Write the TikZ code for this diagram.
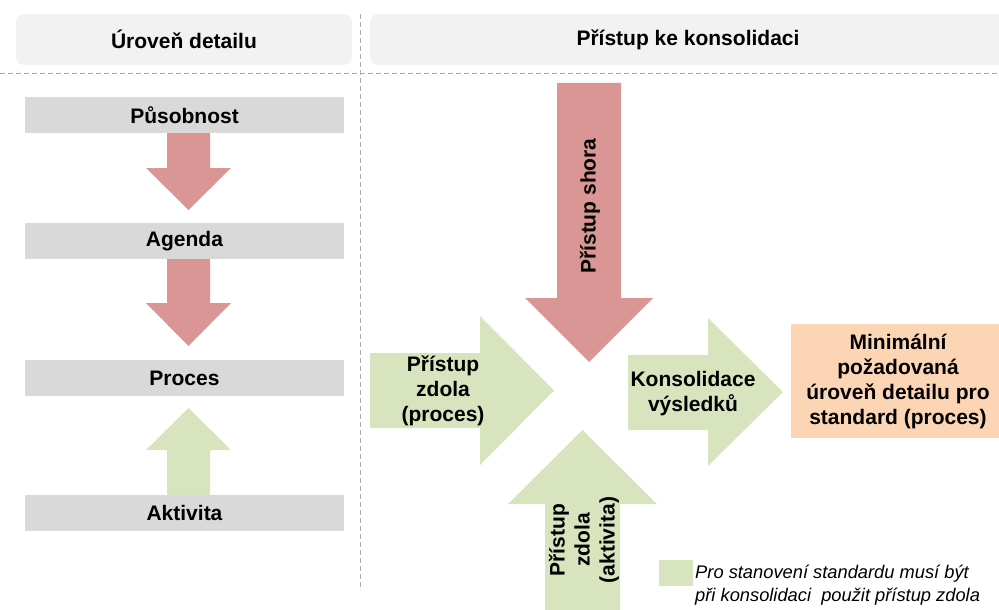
\documentclass[tikz,border=0pt]{standalone}
\usepackage{fontspec}
\setmainfont{Liberation Sans}
\definecolor{hdr}{HTML}{F2F2F2}
\definecolor{lvl}{HTML}{D9D9D9}
\definecolor{topdown}{HTML}{D99694}
\definecolor{bottomup}{HTML}{D7E4BD}
\definecolor{result}{HTML}{FCD5B5}
\definecolor{guidegray}{HTML}{ABABAB}
\begin{document}
\begin{tikzpicture}[x=1pt,y=-1pt,
  lbl/.style={font=\bfseries\fontsize{21}{25}\selectfont, align=center, inner sep=0pt},
  hdrbox/.style={lbl, fill=hdr, rounded corners=8pt, minimum height=51pt},
  lvlbox/.style={lbl, fill=lvl, minimum width=319pt, minimum height=36pt},
  guide/.style={draw=guidegray, line width=1pt, dash pattern=on 5pt off 3pt},
  redarrow/.style={fill=topdown},
  greenarrow/.style={fill=bottomup},
  note/.style={font=\itshape\fontsize{18.3}{23}\selectfont, align=left, inner sep=0pt}]
\useasboundingbox (0,0) rectangle (999,610);
\clip (0,0) rectangle (999,610);

% column headers
\node[hdrbox, minimum width=336pt] (hlevel) at (184,39.5) {Úroveň detailu};
\node[hdrbox, minimum width=636pt] (happroach) at (688,39.5) {Přístup ke konsolidaci};

% separators
\draw[guide] (0,74) -- (999,74);
\draw[guide] (360.5,14) -- (360.5,590);

% levels of detail
\node[lvlbox] (pusobnost) at (184.5,115) {Působnost};
\node[lvlbox] (agenda)    at (184.5,241) {Agenda};
\node[lvlbox] (proces)    at (184.5,378) {Proces};
\node[lvlbox] (aktivita)  at (184.5,513) {Aktivita};

% arrows between levels
\fill[redarrow] (167,133) -- (210,133) -- (210,168) -- (231,168) -- (188.5,210)
  -- (146,168) -- (167,168) -- cycle;
\fill[redarrow] (167,259) -- (210,259) -- (210,303) -- (231,303) -- (188.5,346)
  -- (146,303) -- (167,303) -- cycle;
\fill[greenarrow] (167,495) -- (210,495) -- (210,450) -- (231,450) -- (188.5,408)
  -- (146,450) -- (167,450) -- cycle;

% top-down approach
\fill[redarrow] (557,83) -- (621,83) -- (621,298) -- (653,298) -- (589,362)
  -- (525,298) -- (557,298) -- cycle;
\node[lbl, rotate=90] (shora) at (590,206) {Přístup shora};

% bottom-up approach from processes
\fill[greenarrow] (370,353) -- (480,353) -- (480,316) -- (554,390.5) -- (480,465)
  -- (480,428) -- (370,428) -- cycle;
\node[lbl] (zdolaproces) at (443,391) {Přístup\\zdola\\(proces)};

% bottom-up approach from activities
\fill[greenarrow] (545,615) -- (545,504) -- (508,504) -- (582.5,430) -- (657,504)
  -- (620,504) -- (620,615) -- cycle;
\node[lbl, rotate=90] (zdolaaktivita) at (584,540) {Přístup\\zdola\\(aktivita)};

% consolidation of results
\fill[greenarrow] (628,355) -- (708,355) -- (708,318) -- (783,392) -- (708,466)
  -- (708,430) -- (628,430) -- cycle;
\node[lbl] (konsolidace) at (693,394) {Konsolidace\\výsledků};

% outcome
\node[lbl, fill=result, minimum width=214pt, minimum height=114pt] (vysledek) at (898,381)
  {Minimální\\požadovaná\\úroveň detailu pro\\standard (proces)};

% legend
\node[fill=bottomup, minimum width=34pt, minimum height=26pt, inner sep=0pt] (legendkey) at (676,573) {};
\node[note, anchor=north west] (legendtext) at (695,565)
  {Pro stanovení standardu musí být\\při konsolidaci~ použit přístup zdola};
\end{tikzpicture}
\end{document}
